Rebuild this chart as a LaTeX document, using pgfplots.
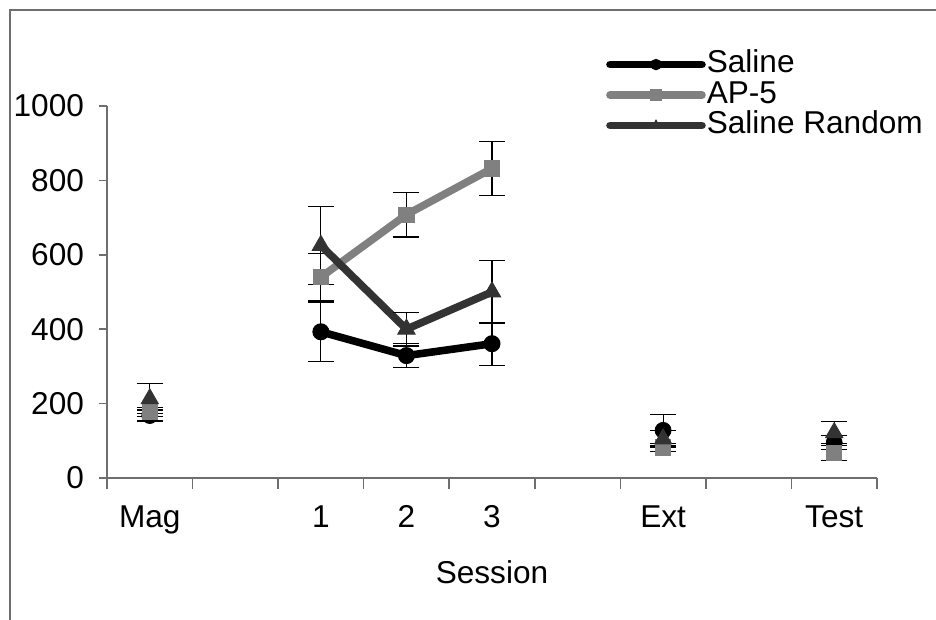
\documentclass[border=0pt]{standalone}
\usepackage{pgfplots}
\pgfplotsset{compat=1.18}
\usepackage{fontspec}
\setmainfont{Liberation Sans}
\definecolor{apgray}{RGB}{128,128,128}
\definecolor{srgray}{RGB}{51,51,51}
\definecolor{axgray}{RGB}{110,110,110}
\begin{document}
\begin{tikzpicture}
\useasboundingbox (0,0) rectangle (468pt,310pt);
\draw[axgray, line width=0.75pt] (5pt,0pt) -- (5pt,305pt) -- (468pt,305pt);
\begin{axis}[
  at={(53.5pt,71pt)}, anchor=south west,
  scale only axis, width=385pt, height=186pt,
  xmin=-0.5, xmax=8.5, ymin=0, ymax=1000,
  axis x line=bottom, axis y line=left,
  axis line style={-, axgray, line width=0.75pt},
  xtick={0,2,3,4,6,8},
  xticklabels={Mag,1,2,3,Ext,Test},
  major x tick style={draw=none},
  minor xtick={-0.5,0.5,...,8.5},
  minor x tick style={axgray, line width=0.75pt},
  minor tick length=5.5pt,
  ytick={0,200,...,1000},
  y tick style={axgray, line width=0.75pt},
  major tick length=4pt,
  tick align=outside,
  font=\fontsize{15.8}{18}\selectfont,
  /pgf/number format/assume math mode=true,
  /pgf/number format/1000 sep={},
  yticklabel style={xshift=-4pt},
  xticklabel style={yshift=-6.2pt},
  xlabel={Session},
  xlabel style={yshift=-6.8pt},
  clip=false,
  legend style={draw=none, fill=none, at={(0.64,1.164)}, anchor=north west,
    nodes={inner sep=0.5pt, text height=11.2pt, text depth=3pt, anchor=west},
    row sep=0pt, font=\fontsize{15.8}{18}\selectfont},
  legend cell align=left,
  legend image code/.code={%
    \draw[mark repeat=2, mark phase=2, line cap=round, mark size=2.6pt] plot coordinates {(0pt,0pt)(23pt,0pt)(46pt,0pt)};},
  error bars/y dir=both, error bars/y explicit,
  error bars/error bar style={black, line width=0.6pt, solid},
  error bars/error mark options={rotate=90, mark size=6.5pt, black, line width=0.6pt},
]
% Saline
\addplot[black, line width=3.8pt, mark=*, mark size=4pt, mark options={solid, line width=0.5pt}]
  coordinates {(2,393) +- (0,79) (3,329) +- (0,32) (4,361) +- (0,58)};
\addlegendentry{Saline}
% AP-5
\addplot[apgray, line width=3.8pt, mark=square*, mark size=3.8pt, mark options={solid, line width=0.5pt}]
  coordinates {(2,540) +- (0,64) (3,708) +- (0,60) (4,832) +- (0,72)};
\addlegendentry{AP-5}
% Saline Random
\addplot[srgray, line width=3.8pt, mark=triangle*, mark size=5pt, mark options={solid, line width=0.5pt}]
  coordinates {(2,625) +- (0,105) (3,400) +- (0,45) (4,500) +- (0,84)};
\addlegendentry{Saline Random}
% isolated points
\addplot[black, only marks, mark=*, mark size=4pt, forget plot]
  coordinates {(0,168) +- (0,15) (6,128) +- (0,42) (8,95) +- (0,19)};
\addplot[apgray, only marks, mark=square*, mark size=3.8pt, forget plot]
  coordinates {(0,178) +- (0,12) (6,82) +- (0,10) (8,67) +- (0,20)};
\addplot[srgray, only marks, mark=triangle*, mark size=5pt, forget plot]
  coordinates {(0,213) +- (0,40) (6,105) +- (0,22) (8,122) +- (0,30)};
\end{axis}
\end{tikzpicture}
\end{document}
